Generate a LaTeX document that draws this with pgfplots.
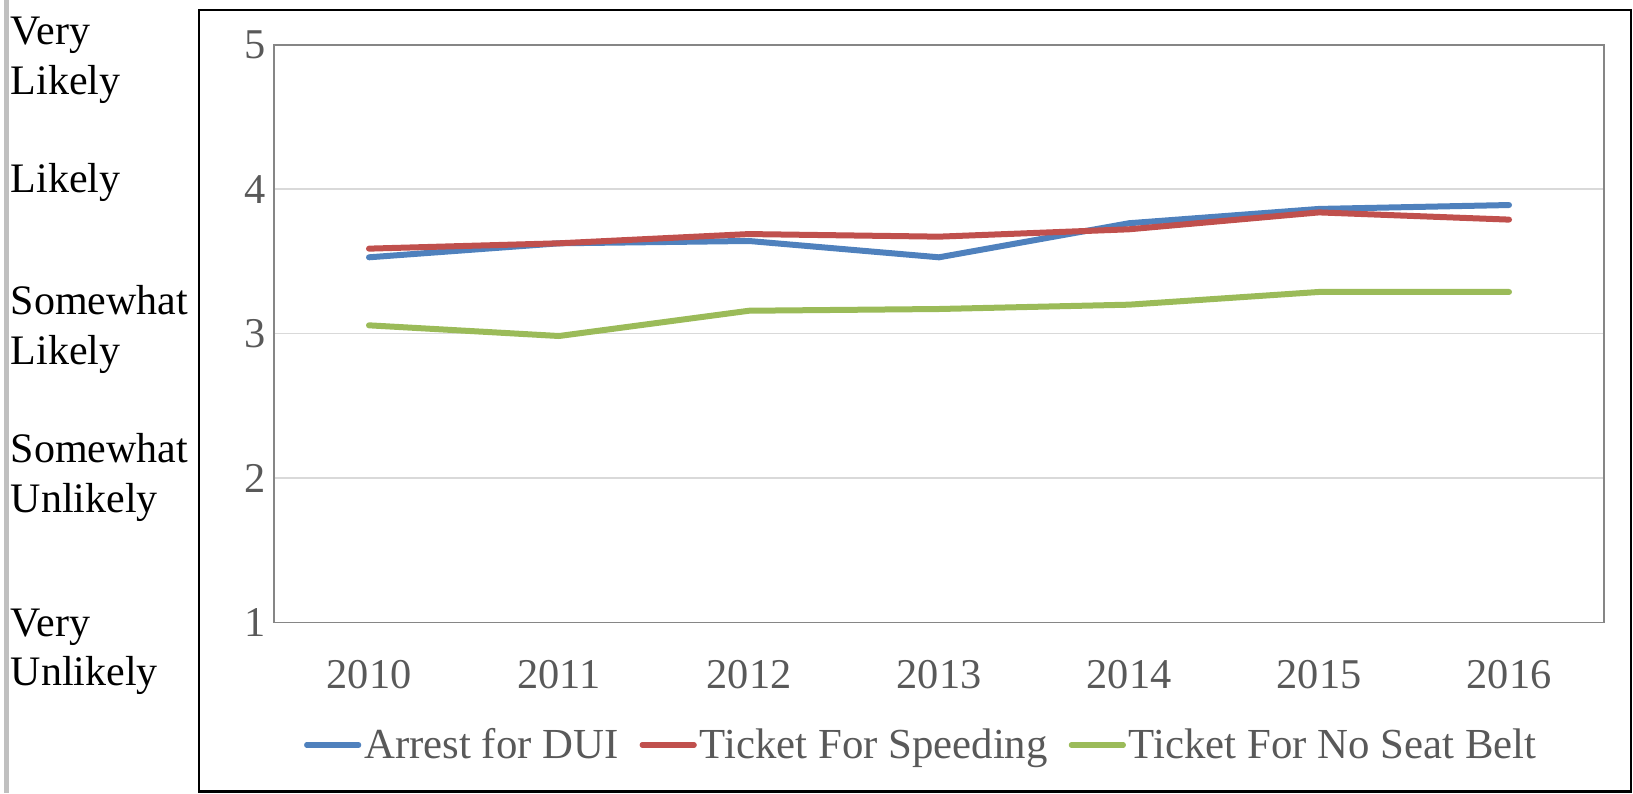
\documentclass[border=0pt]{standalone}
\usepackage{pgfplots}
\pgfplotsset{compat=1.18}
\usepackage{fontspec}
\setmainfont{Liberation Serif}
\definecolor{cBlue}{HTML}{4F81BD}
\definecolor{cRed}{HTML}{C0504D}
\definecolor{cGreen}{HTML}{9BBB59}
\definecolor{cGrid}{HTML}{D9D9D9}
\definecolor{cFrame}{HTML}{868686}
\definecolor{cText}{HTML}{595959}
\definecolor{cBar}{HTML}{C0C0C0}
\begin{document}
\begin{tikzpicture}
\useasboundingbox (0,0) rectangle (816.5pt,396.5pt);
\fill[cBar] (2pt,0pt) rectangle (4.5pt,396.5pt);
\draw[black, line width=1.1pt] (99.5pt,0.75pt) rectangle (815.5pt,391.5pt);
\begin{axis}[
  at={(137pt,85.25pt)}, anchor=south west,
  scale only axis, width=665pt, height=288.8pt,
  xmin=-0.5, xmax=6.5, ymin=1, ymax=5,
  xtick={0,1,2,3,4,5,6},
  xticklabels={2010,2011,2012,2013,2014,2015,2016},
  ytick={1,2,3,4,5},
  major tick length=0pt,
  ymajorgrids, grid style={cGrid, line width=0.8pt},
  axis line style={cFrame, line width=0.7pt},
  /pgf/number format/assume math mode=true,
  ticklabel style={font=\fontsize{21.2}{25}\selectfont, text=cText, inner sep=0pt},
  yticklabel style={anchor=east, xshift=-4pt},
  xticklabel style={anchor=base, yshift=-33pt},
  legend style={at={(0.487,-0.212)}, anchor=center, draw=none, fill=none,
    legend columns=3, font=\fontsize{21.4}{25}\selectfont, text=cText,
    nodes={inner xsep=1.5pt, inner ysep=1pt},
    /tikz/every even column/.append style={column sep=9pt}},
  legend image code/.code={\draw[#1, line width=2.6pt, line cap=round] (0pt,0pt) -- (26pt,0pt);},
]
\addplot[cBlue, line width=3pt, line cap=round, line join=round] coordinates {(0,3.529) (1,3.626) (2,3.642) (3,3.529) (4,3.765) (5,3.864) (6,3.891)};
\addlegendentry{Arrest for DUI}
\addplot[cRed, line width=3pt, line cap=round, line join=round] coordinates {(0,3.589) (1,3.626) (2,3.690) (3,3.672) (4,3.723) (5,3.840) (6,3.790)};
\addlegendentry{Ticket For Speeding}
\addplot[cGreen, line width=3pt, line cap=round, line join=round] coordinates {(0,3.058) (1,2.984) (2,3.159) (3,3.171) (4,3.201) (5,3.289) (6,3.289)};
\addlegendentry{Ticket For No Seat Belt}
\end{axis}
\begin{scope}[every node/.style={anchor=base west, inner sep=0pt, font=\fontsize{21}{25}\selectfont}]
\node at (5.25pt,374.1pt) {Very};
\node at (5.25pt,349.1pt) {Likely};
\node at (5.25pt,300.2pt) {Likely};
\node at (5.25pt,239.25pt) {Somewhat};
\node at (5.25pt,214.25pt) {Likely};
\node at (5.25pt,165.3pt) {Somewhat};
\node at (5.25pt,140.3pt) {Unlikely};
\node at (5.25pt,78.3pt) {Very};
\node at (5.25pt,53.85pt) {Unlikely};
\end{scope}
\end{tikzpicture}
\end{document}
